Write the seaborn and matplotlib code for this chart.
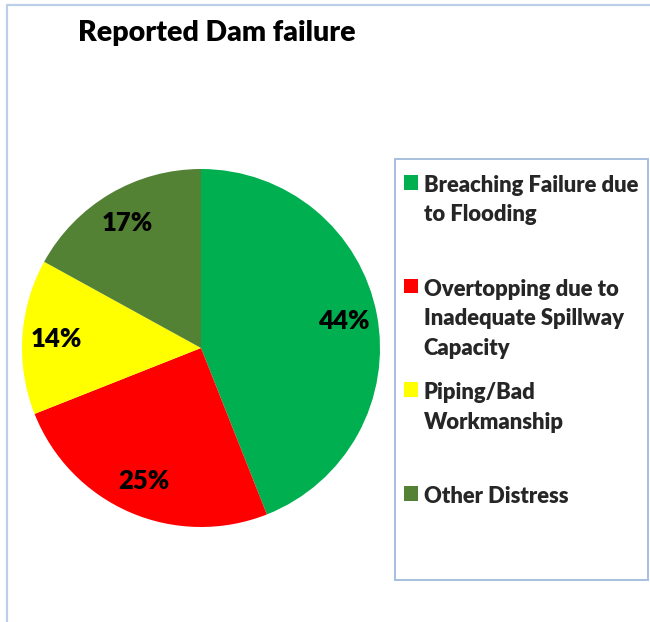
import matplotlib
matplotlib.use("Agg")
import matplotlib.pyplot as plt
from matplotlib.patches import Rectangle
import seaborn as sns

# data
categories = [
    "Breaching Failure due\nto Flooding",
    "Overtopping due to\nInadequate Spillway\nCapacity",
    "Piping/Bad\nWorkmanship",
    "Other Distress",
]
shares = [44, 25, 14, 17]
slice_colors = ["#00B050", "#FF0000", "#FFFF00", "#548235"]

sns.set_theme(style="white")
plt.rcParams["font.family"] = ["Lato", "DejaVu Sans"]

W, H = 650, 622
fig = plt.figure(figsize=(W / 100, H / 100), dpi=100)
fig.patch.set_facecolor("white")

# outer chart border (only left/top visible in the crop)
fig.patches.append(Rectangle((7 / W, -0.1), 1.2, 1 - 5 / H + 0.1, transform=fig.transFigure,
                             fill=False, edgecolor="#BCCFE8", linewidth=1.6))

# pie: centre (201, 348) px, radius 179 px
cx, cy, r = 201, 348, 179
ax = fig.add_axes([(cx - r) / W, (H - cy - r) / H, 2 * r / W, 2 * r / H])
palette = sns.color_palette(slice_colors)
wedges, texts, autotexts = ax.pie(shares, colors=palette, startangle=90, counterclock=False,
                                  autopct="%.0f%%", pctdistance=0.81,
                                  wedgeprops=dict(linewidth=0))
for t in autotexts:
    t.set_fontsize(18.5)
    t.set_fontweight("heavy")
    t.set_color("black")
ax.set_xlim(-1, 1)
ax.set_ylim(-1, 1)
ax.set_aspect("equal")
ax.axis("off")

fig.text(78 / W, 1 - 41 / H, "Reported Dam failure", fontsize=20.5, fontweight="heavy",
         ha="left", va="baseline", color="black")

# legend box
fig.patches.append(Rectangle((395 / W, (H - 580) / H), 253 / W, 421 / H, transform=fig.transFigure,
                             fill=False, edgecolor="#A7BFDE", linewidth=1.4))

# pad every label to three lines so entries get the same pitch as Excel's legend
padded = [c + "\n" * (2 - c.count("\n")) for c in categories]
leg = fig.legend(wedges, padded, loc="upper left", bbox_to_anchor=(393 / W, 1 - 164 / H),
                 frameon=False, borderpad=0, handlelength=0.65, handleheight=0.65,
                 handletextpad=0.25, labelspacing=1.08,
                 prop=dict(family=["Lato", "DejaVu Sans"], weight="heavy", size=15.8))
for t in leg.get_texts():
    t.set_linespacing(1.5)
# put the colour square next to the first line of each label
for col in leg._legend_handle_box.get_children():
    for item in col.get_children():
        item.align = "top"

fig.savefig("out.png", dpi=100, facecolor="white")
